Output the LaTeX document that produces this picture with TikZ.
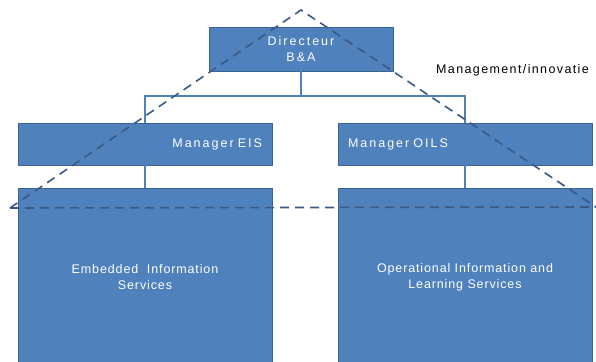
\documentclass[tikz,border=0pt]{standalone}
\usepackage{fontspec}
\newfontfamily\widefont{Liberation Sans}[LetterSpace=16]
\newfontfamily\unitfont{Liberation Sans}[LetterSpace=7]
\newfontfamily\notefont{Liberation Sans}[LetterSpace=11]
\usetikzlibrary{positioning}

\definecolor{boxblue}{HTML}{4F81BD}
\definecolor{boxedge}{HTML}{3B6391}
\definecolor{dashblue}{HTML}{3A5A85}

\begin{document}
\begin{tikzpicture}[x=1pt, y=-1pt,
		box/.style={rectangle, draw=boxedge, fill=boxblue, line width=0.8pt, text=white,
			font=\widefont\fontsize{12.5}{16}\selectfont, inner sep=0pt},
		unit/.style={box, minimum width=254pt, minimum height=178pt, align=center,
			font=\unitfont\fontsize{12.5}{16}\selectfont},
		link/.style={draw=boxblue, line width=1.6pt},
		border/.style={draw=dashblue, line width=1.6pt, dash pattern=on 9pt off 6pt}]
	
			\useasboundingbox (0,0) rectangle (596,361);
			
			\node[box, minimum width=184pt, minimum height=44pt, align=center] (dir) at (301,49) {Directeur\\B\&A};
			\node[box, minimum width=254pt, minimum height=42pt, text width=234pt, align=right] (eis) at (145,144) {Manager EIS};
			\node[box, minimum width=254pt, minimum height=42pt, text width=234pt, align=left] (oils) at (465,144) {Manager OILS};
			\node[unit] (eisunit) at (145,277) {Embedded\ \ Information\\Services};
			\node[unit] (oilsunit) at (465,277) {Operational Information and\\Learning Services};
			
			\node[font=\notefont\fontsize{12.5}{14}\selectfont, anchor=west, inner sep=0pt] (mgmt) at (436,70) {Management/innovatie};
			
			\coordinate (top) at (301,10);
			\coordinate (lcorner) at (10,208);
			\coordinate (rcorner) at (596,207);
			\coordinate (bar) at (301,96);
			
			\path[link]
			(dir) -- (bar)
			(bar) -| (eis)
			(bar) -| (oils)
			(eis) -- (eisunit)
			(oils) -- (oilsunit);
			
			\draw[border] (lcorner) -- (top) -- (rcorner);
			\draw[border] (lcorner) -- (rcorner);
		\end{tikzpicture}
\end{document}
